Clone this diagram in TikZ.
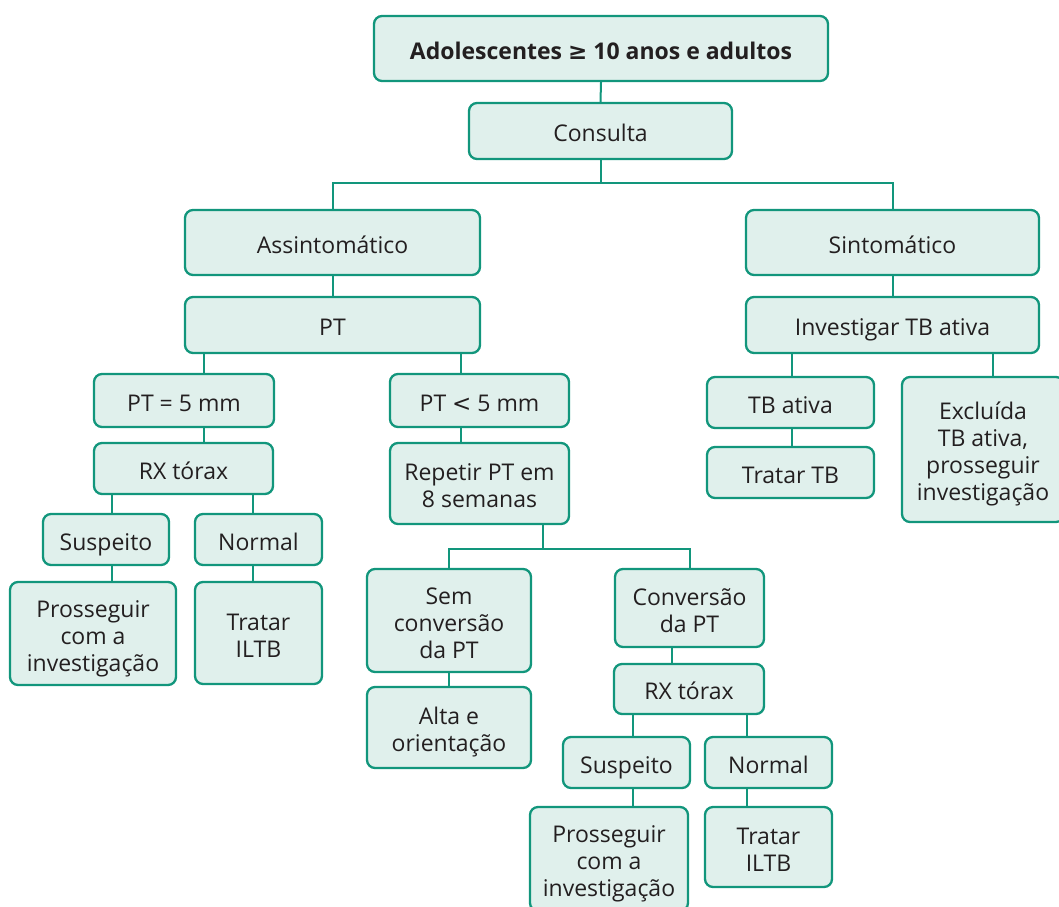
\documentclass[tikz,border=0pt]{standalone}
\usepackage{fontspec}
\setmainfont{Open Sans}
\newfontfamily\symfont{DejaVu Sans}
\definecolor{boxline}{RGB}{18,150,124}
\definecolor{boxfill}{RGB}{224,240,236}
\definecolor{txt}{RGB}{35,31,32}
\newcommand\topstrut{\rule{0pt}{1.25em}}
\newcommand\botstrut{\rule[-0.3em]{0pt}{0.3em}}
\newcommand\bt[1]{\topstrut#1\botstrut}
\begin{document}
\begin{tikzpicture}[x=1pt,y=-1pt,
  box/.style={draw=boxline, fill=boxfill, line width=2.3pt, rounded corners=8pt,
    align=center, inner sep=0pt, text=txt,
    font=\fontsize{23}{27}\selectfont},
  conn/.style={draw=boxline, line width=2pt}]
\useasboundingbox (0,0) rectangle (1059,906);
% nodes
\node[box, minimum width=454, minimum height=65, font=\fontsize{23}{27}\selectfont\bfseries] (top) at (601,48.5) {\bt{Adolescentes {\symfont ≥} 10 anos e adultos}};
\node[box, minimum width=263, minimum height=56] (cons) at (600.5,131) {\bt{Consulta}};
\node[box, minimum width=295, minimum height=65] (asin) at (332.5,242.5) {\bt{Assintomático}};
\node[box, minimum width=293, minimum height=65] (sint) at (892.5,242.5) {\bt{Sintomático}};
\node[box, minimum width=295, minimum height=56] (pt) at (332.5,325) {\bt{PT}};
\node[box, minimum width=293, minimum height=56] (inv) at (892.5,325) {\bt{Investigar TB ativa}};
\node[box, minimum width=180, minimum height=53] (pt5) at (184,400.5) {\bt{PT = 5 mm}};
\node[box, minimum width=179, minimum height=53] (ptl) at (479.5,400.5) {\bt{PT {\symfont <} 5 mm}};
\node[box, minimum width=179, minimum height=51] (rxl) at (183.5,468.5) {\bt{RX tórax}};
\node[box, minimum width=179, minimum height=81] (rep) at (479.5,483.5) {\bt{Repetir PT em\\8 semanas}};
\node[box, minimum width=126, minimum height=51] (sul) at (106,539.5) {\bt{Suspeito}};
\node[box, minimum width=127, minimum height=51] (nol) at (258.5,539.5) {\bt{Normal}};
\node[box, minimum width=166, minimum height=103] (prl) at (93,633.5) {\bt{Prosseguir\\com a\\investigação}};
\node[box, minimum width=127, minimum height=102] (trl) at (258.5,633) {\bt{Tratar\\ILTB}};
\node[box, minimum width=164, minimum height=103] (sem) at (449,620.5) {\bt{Sem\\conversão\\da PT}};
\node[box, minimum width=149, minimum height=78] (conv) at (689.5,608) {\bt{Conversão\\da PT}};
\node[box, minimum width=164, minimum height=81] (alta) at (449,727.5) {\bt{Alta e\\orientação}};
\node[box, minimum width=150, minimum height=50] (rxr) at (689,689) {\bt{RX tórax}};
\node[box, minimum width=127, minimum height=51] (sur) at (626.5,762.5) {\bt{Suspeito}};
\node[box, minimum width=127, minimum height=51] (nor) at (768.5,762.5) {\bt{Normal}};
\node[box, minimum width=158, minimum height=104] (prr) at (609,859) {\bt{Prosseguir\\com a\\investigação}};
\node[box, minimum width=127, minimum height=80] (trr) at (768.5,847) {\bt{Tratar\\ILTB}};
\node[box, minimum width=167, minimum height=51] (tba) at (790.5,402.5) {\bt{TB ativa}};
\node[box, minimum width=167, minimum height=51] (ttb) at (790.5,472.5) {\bt{Tratar TB}};
\node[box, minimum width=162, minimum height=145] (exc) at (983,449.5) {\bt{Excluída\\TB ativa,\\prosseguir\\investigação}};
% connectors
\coordinate (bus1) at (600.5,183);
\coordinate (bus2) at (543,549);
\draw[conn] (top.south) -- (cons.north);
\draw[conn] (cons.south) -- (bus1);
\draw[conn] (asin.north) -- (asin.north |- bus1) -- (sint.north |- bus1) -- (sint.north);
\draw[conn] (asin.south) -- (pt.north);
\draw[conn] (sint.south) -- (inv.north);
\draw[conn] (pt.south -| 204,0) -- (pt5.north -| 204,0);
\draw[conn] (pt.south -| 461,0) -- (ptl.north -| 461,0);
\draw[conn] (pt5.south -| 204,0) -- (rxl.north -| 204,0);
\draw[conn] (ptl.south -| 461,0) -- (rep.north -| 461,0);
\draw[conn] (rxl.south -| 112,0) -- (sul.north -| 112,0);
\draw[conn] (rxl.south -| 253,0) -- (nol.north -| 253,0);
\draw[conn] (sul.south -| 112,0) -- (prl.north -| 112,0);
\draw[conn] (nol.south -| 253,0) -- (trl.north -| 253,0);
\draw[conn] (rep.south -| bus2) -- (bus2);
\draw[conn] (sem.north) -- (sem.north |- bus2) -- (conv.north |- bus2) -- (conv.north);
\draw[conn] (sem.south) -- (alta.north);
\draw[conn] (conv.south -| 672,0) -- (rxr.north -| 672,0);
\draw[conn] (rxr.south -| 633,0) -- (sur.north -| 633,0);
\draw[conn] (rxr.south -| 747,0) -- (nor.north -| 747,0);
\draw[conn] (sur.south -| 633,0) -- (prr.north -| 633,0);
\draw[conn] (nor.south -| 747,0) -- (trr.north -| 747,0);
\draw[conn] (inv.south -| 792,0) -- (tba.north -| 792,0);
\draw[conn] (inv.south -| 993,0) -- (exc.north -| 993,0);
\draw[conn] (tba.south -| 792,0) -- (ttb.north -| 792,0);
\end{tikzpicture}
\end{document}
